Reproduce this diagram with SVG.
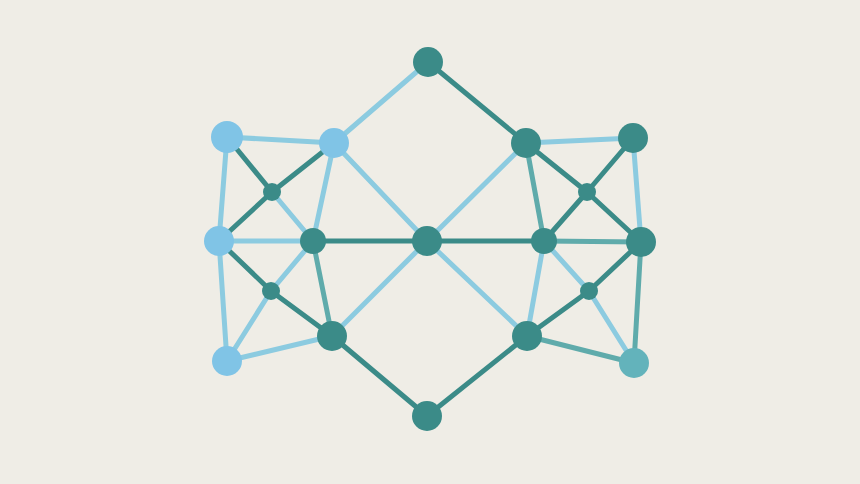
<svg xmlns="http://www.w3.org/2000/svg" width="860" height="484" viewBox="0 0 860 484">
<style>
.e{stroke-width:5;stroke-linecap:round;fill:none}
.lb{stroke:#8ccbe0}
.dt{stroke:#3b8b88}
.mt{stroke:#5fabab}
.nl{fill:#80c4e6}
.nd{fill:#3b8b88}
.nm{fill:#63b3bb}
</style>
<rect width="860" height="484" fill="#efede6"/>
<g id="connectors">
<line class="e lb" x1="428" y1="62" x2="334" y2="143"/>
<line class="e dt" x1="428" y1="62" x2="526" y2="143"/>
<line class="e dt" x1="427" y1="416" x2="332" y2="336"/>
<line class="e dt" x1="427" y1="416" x2="527" y2="336"/>
<line class="e lb" x1="227" y1="137" x2="334" y2="143"/>
<line class="e dt" x1="227" y1="137" x2="272" y2="192"/>
<line class="e lb" x1="227" y1="137" x2="219" y2="241"/>
<line class="e dt" x1="334" y1="143" x2="272" y2="192"/>
<line class="e lb" x1="334" y1="143" x2="313" y2="241"/>
<line class="e lb" x1="334" y1="143" x2="427" y2="241"/>
<line class="e dt" x1="272" y1="192" x2="219" y2="241"/>
<line class="e lb" x1="272" y1="192" x2="313" y2="241"/>
<line class="e lb" x1="219" y1="241" x2="313" y2="241"/>
<line class="e dt" x1="313" y1="241" x2="427" y2="241"/>
<line class="e dt" x1="219" y1="241" x2="271" y2="291"/>
<line class="e dt" x1="271" y1="291" x2="332" y2="336"/>
<line class="e lb" x1="313" y1="241" x2="271" y2="291"/>
<line class="e lb" x1="271" y1="291" x2="227" y2="361"/>
<line class="e lb" x1="219" y1="241" x2="227" y2="361"/>
<line class="e mt" x1="313" y1="241" x2="332" y2="336"/>
<line class="e lb" x1="227" y1="361" x2="332" y2="336"/>
<line class="e lb" x1="427" y1="241" x2="332" y2="336"/>
<line class="e lb" x1="526" y1="143" x2="633" y2="138"/>
<line class="e dt" x1="526" y1="143" x2="587" y2="192"/>
<line class="e dt" x1="633" y1="138" x2="587" y2="192"/>
<line class="e lb" x1="526" y1="143" x2="427" y2="241"/>
<line class="e mt" x1="526" y1="143" x2="544" y2="241"/>
<line class="e dt" x1="587" y1="192" x2="544" y2="241"/>
<line class="e dt" x1="587" y1="192" x2="641" y2="242"/>
<line class="e lb" x1="633" y1="138" x2="641" y2="242"/>
<line class="e dt" x1="427" y1="241" x2="544" y2="241"/>
<line class="e mt" x1="544" y1="241" x2="641" y2="242"/>
<line class="e lb" x1="544" y1="241" x2="589" y2="291"/>
<line class="e lb" x1="544" y1="241" x2="527" y2="336"/>
<line class="e dt" x1="641" y1="242" x2="589" y2="291"/>
<line class="e dt" x1="589" y1="291" x2="527" y2="336"/>
<line class="e lb" x1="589" y1="291" x2="634" y2="363"/>
<line class="e mt" x1="641" y1="242" x2="634" y2="363"/>
<line class="e mt" x1="527" y1="336" x2="634" y2="363"/>
<line class="e lb" x1="427" y1="241" x2="527" y2="336"/>
</g>
<g id="n-top"><circle class="nd" cx="428" cy="62" r="15"/></g>
<g id="n-bottom"><circle class="nd" cx="427" cy="416" r="15"/></g>
<g id="n-center"><circle class="nd" cx="427" cy="241" r="15"/></g>
<g id="n-l1"><circle class="nl" cx="227" cy="137" r="16"/></g>
<g id="n-l2"><circle class="nl" cx="334" cy="143" r="15"/></g>
<g id="n-l3"><circle class="nd" cx="272" cy="192" r="9"/></g>
<g id="n-l4"><circle class="nl" cx="219" cy="241" r="15"/></g>
<g id="n-l5"><circle class="nd" cx="313" cy="241" r="13"/></g>
<g id="n-l6"><circle class="nd" cx="271" cy="291" r="9"/></g>
<g id="n-l7"><circle class="nl" cx="227" cy="361" r="15"/></g>
<g id="n-l8"><circle class="nd" cx="332" cy="336" r="15"/></g>
<g id="n-r1"><circle class="nd" cx="526" cy="143" r="15"/></g>
<g id="n-r2"><circle class="nd" cx="633" cy="138" r="15"/></g>
<g id="n-r3"><circle class="nd" cx="587" cy="192" r="9"/></g>
<g id="n-r4"><circle class="nd" cx="544" cy="241" r="13"/></g>
<g id="n-r5"><circle class="nd" cx="641" cy="242" r="15"/></g>
<g id="n-r6"><circle class="nd" cx="589" cy="291" r="9"/></g>
<g id="n-r7"><circle class="nd" cx="527" cy="336" r="15"/></g>
<g id="n-r8"><circle class="nm" cx="634" cy="363" r="15"/></g>
</svg>
